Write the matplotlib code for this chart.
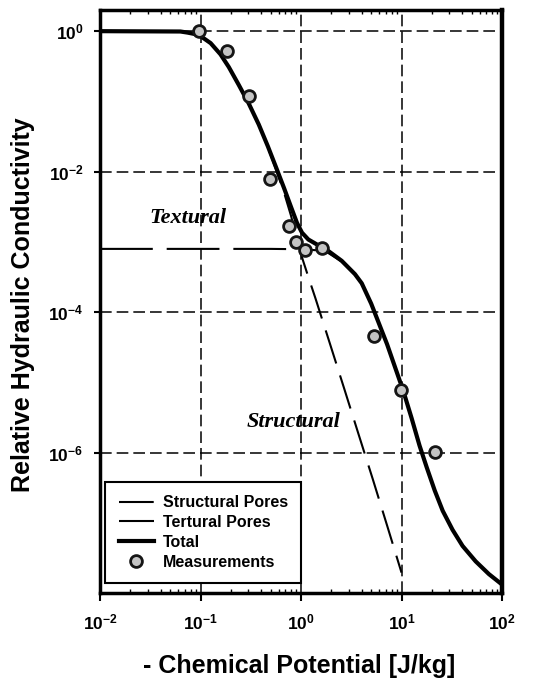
import matplotlib
matplotlib.use('Agg')
import matplotlib.pyplot as plt
from matplotlib.ticker import FixedLocator, LogLocator, NullFormatter

plt.rcParams['font.family'] = ['Liberation Sans', 'DejaVu Sans']
plt.rcParams['lines.scale_dashes'] = False
plt.rcParams['mathtext.fontset'] = 'custom'
plt.rcParams['mathtext.rm'] = 'Liberation Sans:bold'
plt.rcParams['mathtext.bf'] = 'Liberation Sans:bold'
plt.rcParams['mathtext.it'] = 'Liberation Sans:bold'

# measured points
meas_psi = [0.096, 0.184, 0.303, 0.492, 0.765, 0.891, 1.096, 1.60, 5.3, 9.8, 21.3]
meas_k = [1.0, 0.53, 0.121, 7.8e-3, 1.69e-3, 1.01e-3, 7.6e-4, 8.1e-4, 4.6e-5, 7.7e-6, 1.03e-6]

# model curves
total_psi = [0.01, 0.0631, 0.0741, 0.0871, 0.1, 0.126, 0.158, 0.191, 0.240, 0.302,
             0.380, 0.468, 0.562, 0.676, 0.794, 0.912, 1.023, 1.183, 1.43, 1.87,
             2.54, 3.44, 4.02, 4.99, 7.19, 10.4, 12.6, 15.1, 17.8, 21.4,
             25.7, 32.2, 40.5, 54.7, 74.0, 100.0]
total_k = [1.0, 0.989, 0.955, 0.912, 0.851, 0.676, 0.468, 0.309, 0.172, 0.0933,
           0.0468, 0.0229, 0.0117, 5.89e-3, 3.16e-3, 1.86e-3, 1.35e-3, 1.08e-3, 9.23e-4, 7.41e-4,
           5.37e-4, 3.47e-4, 2.57e-4, 1.32e-4, 3.47e-5, 7.59e-6, 3.09e-6, 1.26e-6, 6.17e-7, 2.88e-7,
           1.48e-7, 7.94e-8, 4.68e-8, 2.82e-8, 1.86e-8, 1.32e-8]

struct_psi = [0.01, 0.0631, 0.0741, 0.0871, 0.1, 0.126, 0.158, 0.191, 0.240, 0.302,
              0.380, 0.468, 0.562, 0.676, 0.794, 0.912, 1.023, 1.183, 1.39, 1.93,
              2.69, 3.72, 5.18, 7.19, 10.0]
struct_k = [1.0, 0.989, 0.955, 0.912, 0.851, 0.676, 0.468, 0.309, 0.172, 0.0933,
            0.0468, 0.0221, 0.0109, 5.1e-3, 2.37e-3, 1.1e-3, 6.0e-4, 3.16e-4, 1.58e-4, 3.63e-5,
            8.13e-6, 1.86e-6, 4.17e-7, 9.12e-8, 1.95e-8]

text_psi = [0.01, 0.5, 1.0, 1.43, 1.87, 2.54, 3.44, 4.02, 4.99, 7.19,
            10.4, 12.6, 15.1, 17.8, 21.4, 25.7, 32.2, 40.5, 54.7, 74.0, 100.0]
text_k = [7.94e-4, 7.94e-4, 7.85e-4, 7.59e-4, 6.92e-4, 5.25e-4, 3.44e-4, 2.56e-4, 1.32e-4, 3.47e-5,
          7.59e-6, 3.09e-6, 1.26e-6, 6.17e-7, 2.88e-7, 1.48e-7, 7.94e-8, 4.68e-8, 2.82e-8, 1.86e-8, 1.32e-8]

x_ticks = [1e-2, 1e-1, 1e0, 1e1, 1e2]
x_tick_labels = [r'$\mathbf{10^{-2}}$', r'$\mathbf{10^{-1}}$', r'$\mathbf{10^{0}}$',
                 r'$\mathbf{10^{1}}$', r'$\mathbf{10^{2}}$']
y_ticks = [1e-6, 1e-4, 1e-2, 1e0]
y_tick_labels = [r'$\mathbf{10^{-6}}$', r'$\mathbf{10^{-4}}$', r'$\mathbf{10^{-2}}$', r'$\mathbf{10^{0}}$']

fig = plt.figure(figsize=(5.36, 6.82), dpi=100)
ax = fig.add_axes([0.1866, 0.1305, 0.75, 0.8548])
ax.set_xscale('log')
ax.set_yscale('log')
ax.set_xlim(1e-2, 1e2)
ax.set_ylim(1e-8, 2.0)

ln_s, = ax.plot(struct_psi, struct_k, color='black', lw=1.5, ls=(0, (25, 9)),
                label='Structural Pores', zorder=3)
ln_t, = ax.plot(text_psi, text_k, color='black', lw=1.5, ls=(0, (38, 10)),
                label='Tertural Pores', zorder=3)
ln_tot, = ax.plot(total_psi, total_k, color='black', lw=3, label='Total', zorder=4,
                  solid_joinstyle='round')
pts, = ax.plot(meas_psi, meas_k, ls='none', marker='o', ms=8.5, mfc='#c4c4c4',
               mec='#151515', mew=2, label='Measurements', zorder=5)

ax.text(0.075, 2.2e-3, 'Textural', fontsize=16, family='Liberation Serif',
        style='italic', weight='bold', ha='center', va='center', zorder=6)
ax.text(0.85, 2.7e-6, 'Structural', fontsize=16, family='Liberation Serif',
        style='italic', weight='bold', ha='center', va='center', zorder=6)

ax.xaxis.set_major_locator(FixedLocator(x_ticks))
ax.set_xticklabels(x_tick_labels)
ax.xaxis.set_minor_locator(LogLocator(base=10, subs=range(2, 10), numticks=20))
ax.xaxis.set_minor_formatter(NullFormatter())
ax.yaxis.set_major_locator(FixedLocator(y_ticks))
ax.set_yticklabels(y_tick_labels)
ax.yaxis.set_minor_locator(FixedLocator([]))

ax.tick_params(axis='x', which='major', direction='out', length=6, width=1.5,
               labelsize=12.5, pad=8)
ax.tick_params(axis='x', which='minor', direction='in', length=3, width=1,
               top=True, bottom=True)
ax.tick_params(axis='y', which='major', direction='out', length=4, width=1.5,
               labelsize=12.5, pad=8)

ax.grid(True, which='major', color='black', lw=1.1, ls=(0, (8.4, 3.6)))
for side in ['left', 'top', 'bottom']:
    ax.spines[side].set_linewidth(2.5)
ax.spines['right'].set_linewidth(3.2)

ax.set_xlabel('- Chemical Potential [J/kg]', fontsize=18, fontweight='bold')
ax.xaxis.set_label_coords(0.496, -0.104)
ax.set_ylabel('Relative Hydraulic Conductivity', fontsize=18, fontweight='bold')
ax.yaxis.set_label_coords(-0.162, 0.495)

leg = ax.legend(handles=[ln_s, ln_t, ln_tot, pts], loc='lower left',
                bbox_to_anchor=(0.0124, 0.017), borderaxespad=0,
                prop={'weight': 'bold', 'size': 11.5}, handlelength=2.2,
                handletextpad=0.56, labelspacing=0.3, borderpad=0.85,
                numpoints=1, fancybox=False, framealpha=1, edgecolor='black')
leg.get_frame().set_linewidth(1.5)

fig.savefig('out.png', dpi=100)
